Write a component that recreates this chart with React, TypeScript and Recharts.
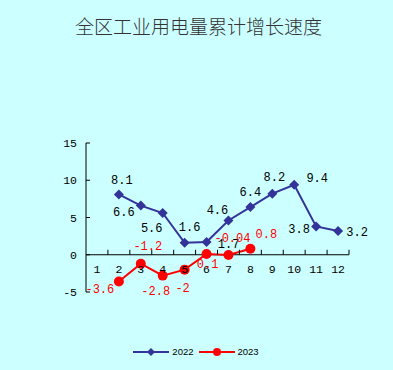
import { LineChart, Line, XAxis, YAxis, ReferenceLine, LabelList } from "recharts"

const months = [1, 2, 3, 4, 5, 6, 7, 8, 9, 10, 11, 12]
const growth2022 = [null, 8.1, 6.6, 5.6, 1.6, 1.7, 4.6, 6.4, 8.2, 9.4, 3.8, 3.2]
const growth2023 = [null, -3.6, -1.2, -2.8, -2, 0.1, -0.04, 0.8, null, null, null, null]
const yTicks = [-5, 0, 5, 10, 15]
const seriesNames = ["2022", "2023"]

// label nudges [dx, dy] in px, one per month
const nudge2022 = [[0, 0], [3, -13], [-17, 7], [-11, 16], [5, -15], [22, 3], [-11, -9], [0, -14], [2, -16], [23, -6], [-17, 4], [19, 2]]
const nudge2023 = [[0, 0], [-19, 8], [7, -17], [-7, 16], [-2, 19], [1, 11], [4, -16], [16, -14], [0, 0], [0, 0], [0, 0], [0, 0]]

const data = months.map((m, i) => ({ month: m, y2022: growth2022[i], y2023: growth2023[i] }))

const W = 393
const H = 370
const TOP = 143
const BOTTOM = 292
const LEFT = 86
const RIGHT = 349
const Y_MIN = -5
const Y_MAX = 15
const ZERO_Y = TOP + ((Y_MAX - 0) / (Y_MAX - Y_MIN)) * (BOTTOM - TOP)
const BAND = (RIGHT - LEFT) / months.length

const BLUE = "#333399"
const RED = "#ff0000"
const MONO = "'Liberation Mono', monospace"

function MonthTick({ x, payload }: any) {
  return (
    <g>
      <text x={x} y={ZERO_Y + 18} textAnchor="middle" fontSize={11.5} fontFamily={MONO} fill="#000">
        {payload.value}
      </text>
      <line x1={x + BAND / 2} x2={x + BAND / 2} y1={ZERO_Y} y2={ZERO_Y - 5} stroke="#000" strokeWidth={1} />
    </g>
  )
}

function Diamond({ cx, cy, index }: any) {
  if (cx == null || cy == null || growth2022[index] == null) return <g key={`d${index}`} />
  const r = 5
  return <polygon key={`d${index}`} points={`${cx},${cy - r} ${cx + r},${cy} ${cx},${cy + r} ${cx - r},${cy}`} fill={BLUE} />
}

function Dot({ cx, cy, index }: any) {
  if (cx == null || cy == null || growth2023[index] == null) return <g key={`c${index}`} />
  return <circle key={`c${index}`} cx={cx} cy={cy} r={5} fill={RED} />
}

function makeLabel(nudges: number[][], color: string) {
  return ({ x, y, value, index }: any) => {
    if (value == null || x == null) return null
    const [dx, dy] = nudges[index]
    return (
      <text x={x + dx} y={y + dy} textAnchor="middle" dominantBaseline="central" fontSize={12} fontFamily={MONO} fill={color}>
        {value}
      </text>
    )
  }
}

function LegendItem({ name, color, round }: { name: string; color: string; round: boolean }) {
  return (
    <div style={{ display: "flex", alignItems: "center", marginRight: 5 }}>
      <svg width={36} height={10}>
        <line x1={0} x2={36} y1={5} y2={5} stroke={color} strokeWidth={2} />
        {round ? <circle cx={18} cy={5} r={4} fill={color} /> : <polygon points="18,1 22,5 18,9 14,5" fill={color} />}
      </svg>
      <span style={{ marginLeft: 3 }}>{name}</span>
    </div>
  )
}

export default function App() {
  return (
    <div style={{ position: "absolute", left: 0, top: 0, width: W, height: H, background: "#ccffff" }}>
      <div
        style={{
          position: "absolute",
          top: 14,
          left: 2,
          width: W,
          textAlign: "center",
          fontFamily: "'Noto Sans CJK SC', sans-serif",
          fontWeight: 300,
          fontSize: 19,
          color: "#333",
          lineHeight: "24px",
        }}
      >
        全区工业用电量累计增长速度
      </div>
      <LineChart width={W} height={H} data={data} margin={{ top: TOP, right: W - RIGHT, bottom: H - BOTTOM - 30, left: 0 }}>
        <XAxis
          dataKey="month"
          type="number"
          domain={[0.5, 12.5]}
          ticks={months}
          height={30}
          axisLine={false}
          tickLine={false}
          tick={<MonthTick />}
        />
        <YAxis
          domain={[Y_MIN, Y_MAX]}
          ticks={yTicks}
          width={LEFT}
          axisLine={{ stroke: "#000" }}
          tickLine={{ stroke: "#000" }}
          tickSize={-4}
          tickMargin={13}
          tick={{ fontSize: 11.5, fontFamily: MONO, fill: "#000" }}
        />
        <ReferenceLine y={0} stroke="#000" strokeWidth={1} />
        <Line dataKey="y2022" name={seriesNames[0]} stroke={BLUE} strokeWidth={2} dot={<Diamond />} activeDot={false} isAnimationActive={false}>
          <LabelList dataKey="y2022" content={makeLabel(nudge2022, "#000")} />
        </Line>
        <Line dataKey="y2023" name={seriesNames[1]} stroke={RED} strokeWidth={2} dot={<Dot />} activeDot={false} isAnimationActive={false}>
          <LabelList dataKey="y2023" content={makeLabel(nudge2023, RED)} />
        </Line>
      </LineChart>
      <div
        style={{
          position: "absolute",
          top: 346,
          left: 0,
          width: W,
          display: "flex",
          justifyContent: "center",
          fontFamily: "'Liberation Sans', Arial, sans-serif",
          fontSize: 9.5,
          color: "#000",
          lineHeight: "12px",
          paddingLeft: 2,
        }}
      >
        <LegendItem name={seriesNames[0]} color={BLUE} round={false} />
        <LegendItem name={seriesNames[1]} color={RED} round={true} />
      </div>
    </div>
  )
}
